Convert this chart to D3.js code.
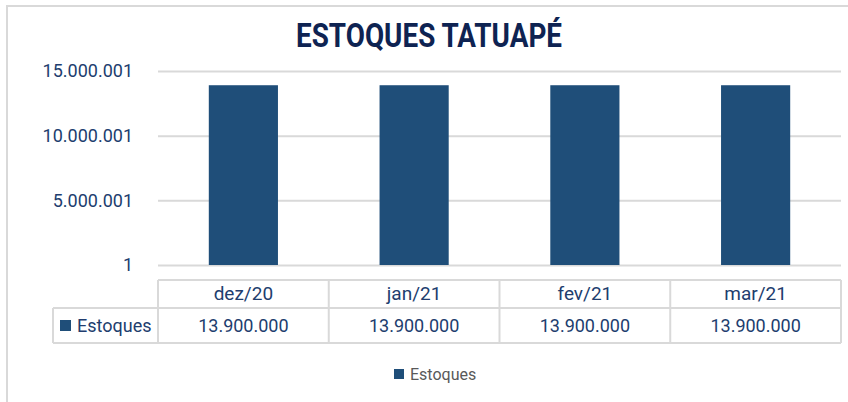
<!DOCTYPE html>
<html lang="pt">
<head>
<meta charset="utf-8">
<script src="https://d3js.org/d3.v7.min.js"></script>
<style>
  body { margin: 0; background: #fff; }
  svg { font-family: Roboto, "Noto Sans", sans-serif; display: block; }
</style>
</head>
<body>
<div id="chart"></div>
<script>
// chart data
var categories = ["dez/20", "jan/21", "fev/21", "mar/21"];
var estoques = [13900000, 13900000, 13900000, 13900000];
var yTicks = [1, 5000001, 10000001, 15000001];
var seriesName = "Estoques";
var title = "ESTOQUES TATUAPÉ";

var W = 848, H = 402;
var plot = {left: 158, right: 841, top: 71, bottom: 265};
var navy = "#213d6e", barColor = "#1f4e79", gridColor = "#d9d9d9";

// pt-BR number format (dot thousands)
var fmt = d3.formatLocale({decimal: ",", thousands: ".", grouping: [3], currency: ["R$", ""]}).format(",d");

var svg = d3.select("#chart").append("svg")
    .attr("width", W).attr("height", H);

// outer chart border (only top and left visible)
svg.append("path")
    .attr("d", "M7,402 V6 H848")
    .attr("fill", "none").attr("stroke", gridColor).attr("stroke-width", 2);

// title
svg.append("text")
    .attr("x", 429).attr("y", 47)
    .attr("text-anchor", "middle")
    .attr("font-size", 33).attr("font-weight", 700)
    .attr("fill", "#0e2352")
    .attr("textLength", 266).attr("lengthAdjust", "spacingAndGlyphs")
    .text(title);

var x = d3.scaleBand().domain(categories).range([plot.left, plot.right]).padding(0);
var y = d3.scaleLinear().domain([1, 15000001]).range([plot.bottom, plot.top]);

// gridlines + tick labels
var yAxis = svg.append("g")
    .attr("transform", "translate(" + plot.left + ",0)")
    .call(d3.axisLeft(y).tickValues(yTicks).tickFormat(fmt)
        .tickSize(-(plot.right - plot.left)).tickPadding(25));
yAxis.select(".domain").remove();
yAxis.selectAll(".tick line").attr("stroke", gridColor).attr("stroke-width", 2);
yAxis.selectAll(".tick text").attr("fill", navy).attr("font-size", 18)
    .attr("font-family", "Roboto, sans-serif");

// bars
var barW = x.bandwidth() * 0.405;
svg.append("g").selectAll("rect")
    .data(estoques)
    .enter().append("rect")
    .attr("x", function(d, i) { return x(categories[i]) + (x.bandwidth() - barW) / 2; })
    .attr("y", function(d) { return y(d); })
    .attr("width", barW)
    .attr("height", function(d) { return y(1) - y(d); })
    .attr("fill", barColor);

// data table
var tTop = 280, tMid = 308, tBot = 343, tLeft = 53;
var tbl = svg.append("g").attr("stroke", gridColor).attr("stroke-width", 2).attr("fill", "none");
tbl.append("line").attr("x1", plot.left).attr("x2", plot.right).attr("y1", tTop).attr("y2", tTop);
tbl.append("line").attr("x1", tLeft).attr("x2", plot.right).attr("y1", tMid).attr("y2", tMid);
tbl.append("line").attr("x1", tLeft).attr("x2", plot.right).attr("y1", tBot).attr("y2", tBot);
tbl.append("line").attr("x1", tLeft).attr("x2", tLeft).attr("y1", tMid).attr("y2", tBot);
var cols = categories.map(function(c) { return x(c); }).concat([plot.right]);
tbl.selectAll(".v").data(cols).enter().append("line")
    .attr("x1", function(d) { return d; }).attr("x2", function(d) { return d; })
    .attr("y1", tTop).attr("y2", tBot);

svg.append("g").selectAll("text")
    .data(categories).enter().append("text")
    .attr("x", function(d) { return x(d) + x.bandwidth() / 2; })
    .attr("y", (tTop + tMid) / 2 + 6)
    .attr("text-anchor", "middle").attr("font-size", 19).attr("fill", navy)
    .text(function(d) { return d; });

svg.append("g").selectAll("text")
    .data(estoques).enter().append("text")
    .attr("x", function(d, i) { return x(categories[i]) + x.bandwidth() / 2; })
    .attr("y", (tMid + tBot) / 2 + 6)
    .attr("text-anchor", "middle").attr("font-size", 18).attr("fill", navy)
    .text(function(d) { return fmt(d); });

// legend key inside table
svg.append("rect").attr("x", 60).attr("y", 320).attr("width", 11).attr("height", 11).attr("fill", barColor);
svg.append("text").attr("x", 77).attr("y", (tMid + tBot) / 2 + 6)
    .attr("font-size", 18).attr("fill", navy).text(seriesName);

// bottom legend
svg.append("rect").attr("x", 394).attr("y", 369).attr("width", 10).attr("height", 10).attr("fill", barColor);
svg.append("text").attr("x", 410).attr("y", 379.5)
    .attr("font-size", 16).attr("fill", "#595959").text(seriesName);
</script>
</body>
</html>
